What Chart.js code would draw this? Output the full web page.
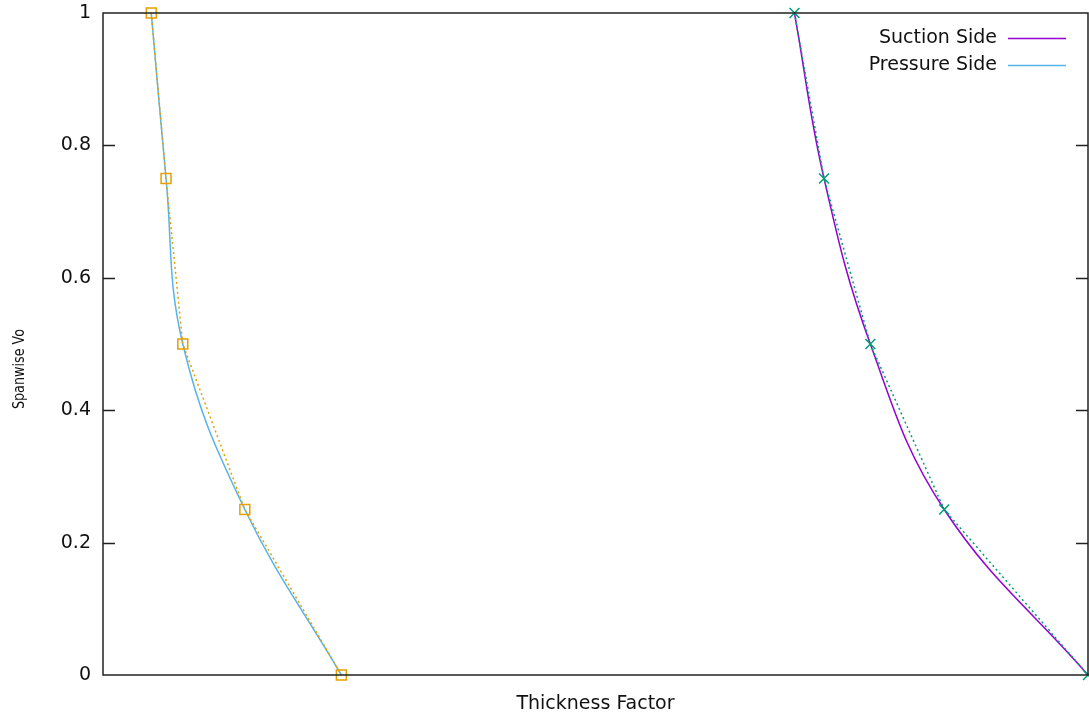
<!DOCTYPE html>
<html>
<head>
<meta charset="utf-8">
<title>Thickness Factor vs Spanwise Vo</title>
<script src="https://cdn.jsdelivr.net/npm/chart.js@4/dist/chart.umd.min.js"></script>
<style>
  html, body { margin: 0; padding: 0; background: #fff; overflow: hidden; }
  canvas { display: block; }
</style>
</head>
<body>
<canvas id="thicknessChart" width="1089" height="719"></canvas>
<script>
// Spanwise stations where the thickness factor is prescribed
const spanStations = [1, 0.75, 0.5, 0.25, 0];
const pressureFactor = [0.049, 0.064, 0.081, 0.144, 0.242];
const suctionFactor = [0.702, 0.732, 0.779, 0.854, 1.0];

const yTicks = [0, 0.2, 0.4, 0.6, 0.8, 1];

const FONT = "'DejaVu Sans', Verdana, sans-serif";

function toPoints(xs, ys) {
  return xs.map((x, i) => ({ x: x, y: ys[i] }));
}

// gnuplot-like frame, inward ticks, axis labels and key
const framePlugin = {
  id: 'frame',
  afterDraw(chart) {
    const ctx = chart.ctx;
    const a = chart.chartArea;
    const yScale = chart.scales.y;
    ctx.save();
    ctx.strokeStyle = '#222';
    ctx.lineWidth = 1.5;
    ctx.strokeRect(a.left, a.top, a.right - a.left, a.bottom - a.top);
    yTicks.forEach(v => {
      if (v === 0 || v === 1) return;
      const py = Math.round(yScale.getPixelForValue(v)) + 0.5;
      ctx.beginPath();
      ctx.moveTo(a.left, py);
      ctx.lineTo(a.left + 12, py);
      ctx.moveTo(a.right - 12, py);
      ctx.lineTo(a.right, py);
      ctx.stroke();
    });

    ctx.fillStyle = '#111';
    ctx.textBaseline = 'middle';

    // axis titles
    ctx.font = '19px ' + FONT;
    ctx.textAlign = 'center';
    ctx.fillText('Thickness Factor', (a.left + a.right) / 2, 704);
    ctx.save();
    ctx.font = '15px ' + FONT;
    ctx.translate(20, 369);
    ctx.rotate(-Math.PI / 2);
    ctx.scale(0.85, 1);
    ctx.fillText('Spanwise Vo', 0, 0);
    ctx.restore();

    // key
    ctx.font = '19px ' + FONT;
    let ky = 38;
    chart.data.datasets.forEach(ds => {
      if (!ds.inKey) return;
      ctx.textAlign = 'right';
      ctx.fillStyle = '#111';
      ctx.fillText(ds.label, 997, ky);
      ctx.strokeStyle = ds.borderColor;
      ctx.lineWidth = 1.5;
      ctx.beginPath();
      ctx.moveTo(1008, ky + 0.5);
      ctx.lineTo(1066, ky + 0.5);
      ctx.stroke();
      ky += 27;
    });
    ctx.restore();
  }
};

new Chart(document.getElementById('thicknessChart'), {
  type: 'scatter',
  data: {
    datasets: [
      {
        // smooth spline through the stations
        label: 'Suction Side',
        inKey: true,
        data: toPoints(suctionFactor, spanStations),
        showLine: true,
        borderColor: '#9400d3',
        borderWidth: 1.5,
        tension: 0.4,
        pointRadius: 0,
        clip: false,
        order: 4
      },
      {
        label: 'Pressure Side',
        inKey: true,
        data: toPoints(pressureFactor, spanStations),
        showLine: true,
        borderColor: '#56b4e9',
        borderWidth: 1.5,
        tension: 0.4,
        pointRadius: 0,
        clip: false,
        order: 3
      },
      {
        // straight dotted polygon with station markers
        label: 'Suction stations',
        data: toPoints(suctionFactor, spanStations),
        showLine: true,
        borderColor: '#009e73',
        borderWidth: 1.5,
        borderDash: [2, 3],
        tension: 0,
        pointStyle: 'crossRot',
        pointRadius: 7,
        pointBorderWidth: 1.5,
        pointBorderColor: '#009e73',
        clip: false,
        order: 2
      },
      {
        label: 'Pressure stations',
        data: toPoints(pressureFactor, spanStations),
        showLine: true,
        borderColor: '#e69f00',
        borderWidth: 1.5,
        borderDash: [2, 3],
        tension: 0,
        pointStyle: 'rect',
        pointRadius: 7,
        pointBorderWidth: 1.5,
        pointBorderColor: '#e69f00',
        pointBackgroundColor: 'rgba(0,0,0,0)',
        clip: false,
        order: 1
      }
    ]
  },
  options: {
    responsive: false,
    animation: false,
    layout: {
      autoPadding: false,
      padding: { top: 13, right: 1, left: 0, bottom: 0 }
    },
    plugins: {
      legend: { display: false },
      tooltip: { enabled: false }
    },
    scales: {
      x: {
        type: 'linear',
        min: 0,
        max: 1,
        ticks: { display: false },
        grid: { display: false },
        border: { display: false },
        afterFit(scale) {
          scale.height = 44;
          scale.paddingLeft = 0;
          scale.paddingRight = 0;
        }
      },
      y: {
        type: 'linear',
        min: 0,
        max: 1,
        afterBuildTicks(scale) {
          scale.ticks = yTicks.map(v => ({ value: v }));
        },
        ticks: {
          color: '#111',
          padding: 12,
          font: { family: FONT, size: 19 },
          callback: v => String(v)
        },
        grid: { display: false, drawTicks: false },
        border: { display: false },
        afterFit(scale) {
          scale.width = 103;
          scale.paddingTop = 0;
          scale.paddingBottom = 0;
        }
      }
    }
  },
  plugins: [framePlugin]
});
</script>
</body>
</html>
